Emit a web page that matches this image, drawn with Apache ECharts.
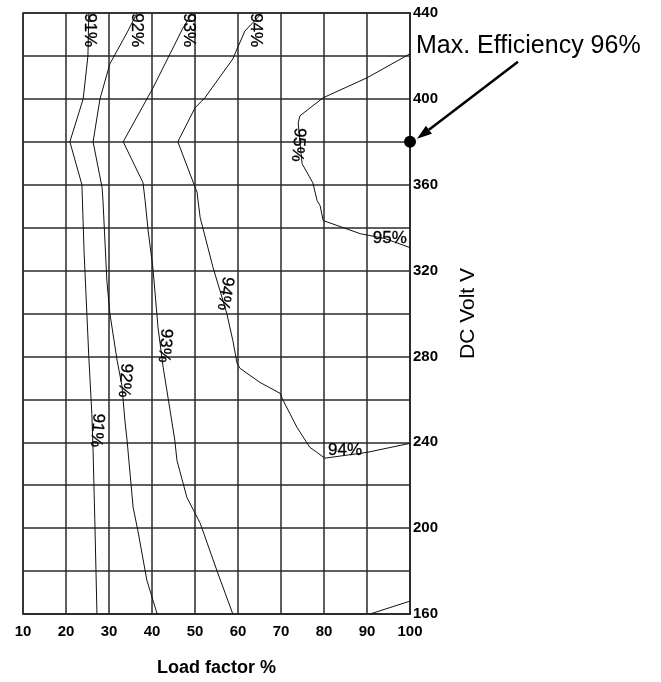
<!DOCTYPE html>
<html><head><meta charset="utf-8">
<script src="https://cdn.jsdelivr.net/npm/echarts@6/dist/echarts.min.js"></script>
<style>html,body{margin:0;padding:0;background:#fff}#c{width:661px;height:682px}</style>
</head><body><div id="c"></div>
<script>
// ---- data (load factor %, DC volt V) ----
const c91 = [[25.3,440],[25.1,420],[24.0,400],[20.9,380],[23.7,360],[24.2,329],[25.3,280],[26.0,253.5],[26.3,236],[26.7,204],[27.2,160]];
const c92 = [[36.5,440],[34.4,431.6],[30.2,416.3],[27.9,400],[26.3,380],[28.4,358.6],[28.6,352.6],[29.5,315.3],[30.2,300],[31.9,278],[33.0,266.5],[33.7,250],[34.2,241],[35.6,209.8],[36.7,199],[38.8,175.8],[41.2,160]];
const c93 = [[49.3,440],[47.2,433],[40.2,405],[33.3,380],[37.9,361],[38.4,352.6],[39.1,338.6],[40.2,321.4],[41.4,293.5],[42.6,274.9],[44.2,254.9],[45.3,241],[45.8,231.6],[48.1,214.4],[51.2,202.3],[55.3,179.1],[58.8,160]];
const c94 = [[65.6,440],[61.6,431.6],[59.3,421],[58.8,418.6],[52.3,400.5],[50.0,395.8],[46.0,380],[50.5,356.3],[50.7,352.6],[51.2,344.7],[54.2,321.4],[55.8,310.7],[57.4,300],[58.8,287.4],[59.8,276.7],[60.5,274.4],[65.1,267.9],[69.8,262.8],[70.5,259.5],[73.7,247],[76.7,237.7],[80.2,232.6],[90.0,235.3],[100,239.5]];
const c94b = [[90.7,160],[100,166]];
const c95 = [[100,421],[90,409.8],[79.8,400.5],[74.4,392.1],[74.0,388.8],[74.5,378.1],[74.9,369.8],[77.4,360.9],[78.4,352.6],[79.1,350.2],[79.8,343.3],[88.4,337.2],[94.2,334.9],[100,330.7]];
const maxPoint = [[100,380]];
const maxText = 'Max. Efficiency 96%';

const labelText = ['91%','92%','93%','94%','95%','95%','94%','93%','92%','91%','94%'];
const labelX    = [25.5,36.5,48.6,64.0,74.0,95.3,57.0,43.0,33.7,27.2,84.9];
const labelY    = [432,432,432,432,378.6,334.9,309.3,285,268.8,245.6,236.3];
const labelRot  = [-90,-90,-90,-90,-95,0,-100,-95,-95,-95,0];

const xMin = 10, xMax = 100, xStep = 10;
const yMin = 160, yMax = 440, yStep = 20, yLabelStep = 40;

const FONT = "'Liberation Sans', Arial, sans-serif";
const GRID_COLOR = '#2a2a2a';

const chart = echarts.init(document.getElementById('c'), null, {renderer:'canvas'});

function contour(d){
  return {type:'line', data:d, showSymbol:false, symbol:'none', smooth:false, z:3,
    lineStyle:{color:'#111', width:1}, silent:true, animation:false};
}

const labelData = labelText.map((t,i)=>({
  value:[labelX[i], labelY[i]], name:t,
  label:{rotate:labelRot[i]}
}));

chart.setOption({
  animation:false,
  backgroundColor:'#fff',
  grid:{left:23, right:251, top:13, bottom:68, show:true, borderColor:GRID_COLOR, borderWidth:1.5, backgroundColor:'transparent'},
  xAxis:{type:'value', min:xMin, max:xMax, interval:xStep,
    axisLine:{show:true, lineStyle:{color:GRID_COLOR, width:1.5}},
    axisTick:{show:false},
    splitLine:{show:true, lineStyle:{color:GRID_COLOR, width:1.5}},
    axisLabel:{color:'#000', fontFamily:FONT, fontWeight:'bold', fontSize:15, margin:10},
    name:'Load factor %', nameLocation:'middle', nameGap:45,
    nameTextStyle:{color:'#000', fontFamily:FONT, fontWeight:'bold', fontSize:18}},
  yAxis:{type:'value', position:'right', min:yMin, max:yMax, interval:yStep,
    axisLine:{show:true, lineStyle:{color:GRID_COLOR, width:1.5}},
    axisTick:{show:false},
    splitLine:{show:true, lineStyle:{color:GRID_COLOR, width:1.5}},
    axisLabel:{color:'#000', fontFamily:FONT, fontWeight:'bold', fontSize:15, margin:3,
      formatter:v => ((v - yMin) % yLabelStep === 0 ? String(v) : '')},
    name:'DC Volt V', nameLocation:'middle', nameGap:48, nameRotate:90,
    nameTextStyle:{color:'#000', fontFamily:FONT, fontSize:21}},
  series:[
    contour(c91), contour(c92), contour(c93), contour(c94), contour(c94b), contour(c95),
    {type:'scatter', data:labelData, symbolSize:0.1, itemStyle:{color:'#fff'}, z:5, clip:false, silent:true,
     label:{show:true, position:'inside', formatter:p=>p.name, color:'#000', opacity:1,
       textBorderColor:'#000', textBorderWidth:0.3, fontFamily:FONT, fontSize:17}},
    {type:'scatter', data:maxPoint, symbol:'circle', symbolSize:12, itemStyle:{color:'#000', opacity:1}, z:6, clip:false}
  ]
});

const p = chart.convertToPixel({gridIndex:0}, maxPoint[0]);
const pTop = chart.convertToPixel({gridIndex:0}, [xMax, yMax]);
const start = [p[0]+108, p[1]-80];
const tip = [p[0]+7, p[1]-3];
const ang = Math.atan2(tip[1]-start[1], tip[0]-start[0]);
const L = 15, W = 5;
const base = [tip[0]-L*Math.cos(ang), tip[1]-L*Math.sin(ang)];
const head = [tip,
  [base[0]+W*Math.sin(ang), base[1]-W*Math.cos(ang)],
  [base[0]-W*Math.sin(ang), base[1]+W*Math.cos(ang)]];
chart.setOption({
  graphic:[
    {type:'line', shape:{x1:start[0], y1:start[1], x2:base[0], y2:base[1]}, style:{stroke:'#000', lineWidth:2.5}, z:10},
    {type:'polygon', shape:{points:head}, style:{fill:'#000'}, z:10},
    {type:'text', x:pTop[0]+6, y:pTop[1]+33, style:{text:maxText, fill:'#000', font:'25px '+FONT, verticalAlign:'middle', align:'left'}, z:10}
  ]
});
</script></body></html>
